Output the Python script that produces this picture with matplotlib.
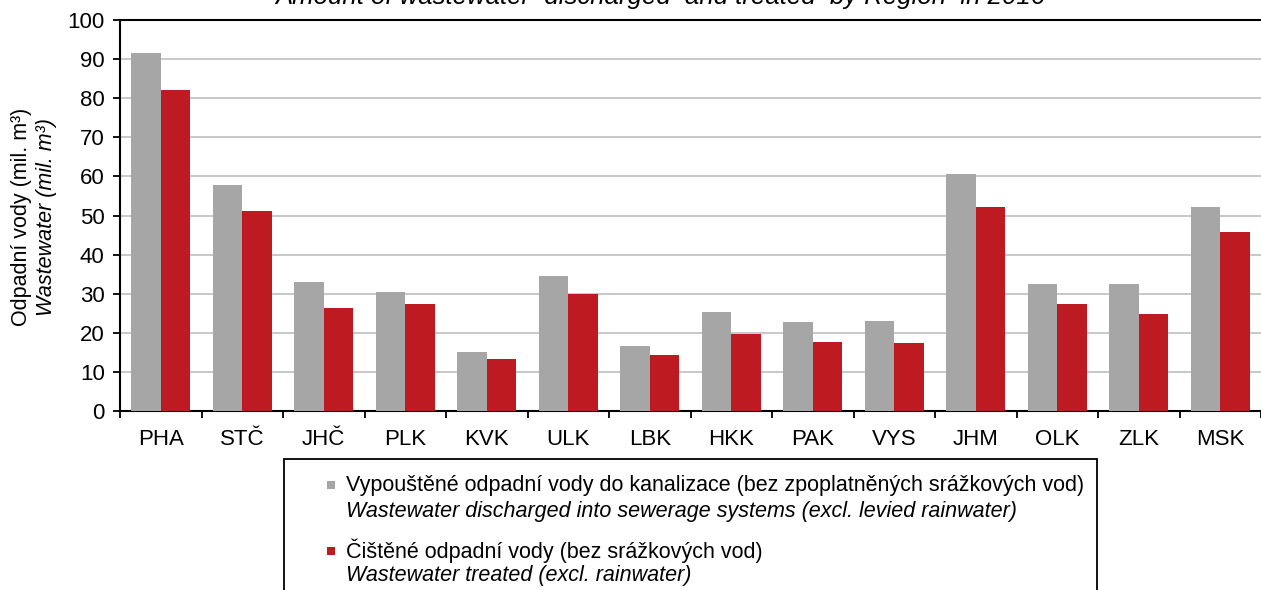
import matplotlib
matplotlib.use("Agg")
import matplotlib.pyplot as plt
import numpy as np
from matplotlib.patches import Rectangle

plt.rcParams['font.family'] = ['Liberation Sans', 'DejaVu Sans']

regions = ["PHA", "STČ", "JHČ", "PLK", "KVK", "ULK", "LBK", "HKK", "PAK", "VYS", "JHM", "OLK", "ZLK", "MSK"]
discharged = [91.6, 57.8, 33.0, 30.4, 15.2, 34.5, 16.7, 25.4, 22.8, 22.9, 60.5, 32.4, 32.4, 52.2]
treated = [82.1, 51.2, 26.3, 27.4, 13.2, 30.0, 14.2, 19.8, 17.7, 17.3, 52.2, 27.3, 24.7, 45.7]

label_discharged_cz = "Vypouštěné odpadní vody do kanalizace (bez zpoplatněných srážkových vod)"
label_discharged_en = "Wastewater discharged into sewerage systems (excl. levied rainwater)"
label_treated_cz = "Čištěné odpadní vody (bez srážkových vod)"
label_treated_en = "Wastewater treated (excl. rainwater)"
ylabel_cz = "Odpadní vody (mil. m³)"
ylabel_en = "Wastewater (mil. m³)"
title_en = "Amount of wastewater  discharged  and treated  by Region  in 2016"

GRAY = "#a6a6a6"
RED = "#be1a22"

W, H = 1261, 590
fig = plt.figure(figsize=(W / 100, H / 100), dpi=100)
ax = fig.add_axes([120 / W, 1 - 411 / H, (1261 - 120) / W, (411 - 20) / H])

x = np.arange(len(regions))
bw = 0.36
ax.bar(x - bw / 2, discharged, width=bw, color=GRAY, zorder=3)
ax.bar(x + bw / 2, treated, width=bw, color=RED, zorder=3)

ax.set_xlim(-0.5, len(regions) - 0.5)
ax.set_ylim(0, 100)
ax.set_yticks(np.arange(0, 101, 10))
ax.yaxis.grid(True, color="#bfbfbf", linewidth=1.2, zorder=0)
ax.set_axisbelow(True)

ax.set_xticks(x)
ax.set_xticklabels(regions, fontsize=16)
ax.set_xticks(np.arange(-0.5, len(regions), 1), minor=True)
ax.tick_params(axis='x', which='major', length=0, pad=13)
ax.tick_params(axis='x', which='minor', length=5, width=1.3, direction='out', color='black')
ax.tick_params(axis='y', which='major', length=5, width=1.3, direction='out', labelsize=16, pad=6)

for s in ['left', 'bottom', 'top']:
    ax.spines[s].set_color('black')
    ax.spines[s].set_linewidth(1.5)
ax.spines['right'].set_visible(False)

# y-axis label (two lines)
fig.text(22 / W, 1 - 217 / H, ylabel_cz, rotation=90, ha='center', va='center', fontsize=15.5)
fig.text(47 / W, 1 - 217 / H, ylabel_en, rotation=90, ha='center', va='center', fontsize=15.5, style='italic')

# partially visible title
fig.text(660 / W, 1 - 4 / H, title_en, ha='center', va='baseline', fontsize=18.5, style='italic')

# legend box
box_top = 1 - 459 / H
fig.patches.append(Rectangle((284 / W, -0.02), (1097 - 284) / W, box_top + 0.02,
                             transform=fig.transFigure, fill=False, edgecolor='black', linewidth=1.3))
sq = 8
fig.patches.append(Rectangle(((331 - sq / 2) / W, 1 - (485 + sq / 2) / H), sq / W, sq / H,
                             transform=fig.transFigure, facecolor=GRAY, edgecolor='none'))
fig.patches.append(Rectangle(((331 - sq / 2) / W, 1 - (551 + sq / 2) / H), sq / W, sq / H,
                             transform=fig.transFigure, facecolor=RED, edgecolor='none'))
fig.text(346 / W, 1 - 485 / H, label_discharged_cz, ha='left', va='center', fontsize=15.5)
fig.text(346 / W, 1 - 511 / H, label_discharged_en, ha='left', va='center', fontsize=15.5, style='italic')
fig.text(346 / W, 1 - 551 / H, label_treated_cz, ha='left', va='center', fontsize=15.5)
fig.text(346 / W, 1 - 576 / H, label_treated_en, ha='left', va='center', fontsize=15.5, style='italic')

fig.savefig("out.png", dpi=100)
